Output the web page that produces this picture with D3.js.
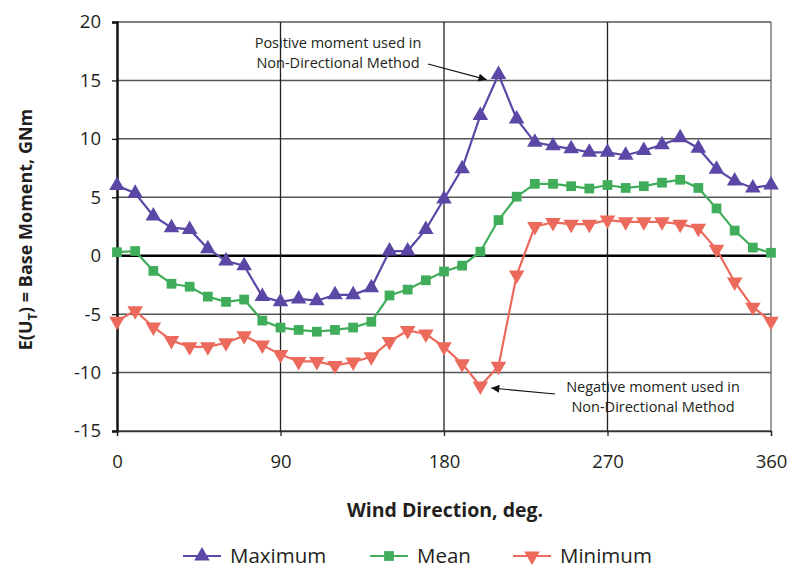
<!DOCTYPE html>
<html>
<head>
<meta charset="utf-8">
<script src="https://cdn.jsdelivr.net/npm/d3@7"></script>
<style>
  body { margin: 0; background: #fff; }
  text { font-family: "Open Sans", "Noto Sans", sans-serif; fill: #231f20; }
</style>
</head>
<body>
<div id="chart"></div>
<script>
// Données.
const directions = d3.range(0, 361, 10);
const maximum = [6.0, 5.35, 3.4, 2.4, 2.25, 0.6, -0.45, -0.85, -3.5, -3.95, -3.7, -3.85, -3.35, -3.35, -2.75,
  0.4, 0.4, 2.25, 4.85, 7.45, 12.0, 15.5, 11.7, 9.7, 9.4, 9.15, 8.85, 8.85, 8.6, 9.0, 9.5, 10.1, 9.2, 7.4, 6.4, 5.8, 6.05];
const mean = [0.3, 0.4, -1.3, -2.4, -2.65, -3.5, -3.95, -3.75, -5.55, -6.15, -6.35, -6.5, -6.35, -6.15, -5.65,
  -3.4, -2.9, -2.1, -1.35, -0.85, 0.35, 3.05, 5.05, 6.15, 6.15, 5.95, 5.75, 6.05, 5.8, 5.95, 6.25, 6.5, 5.8, 4.05, 2.15, 0.7, 0.25];
const minimum = [-5.6, -4.7, -6.1, -7.25, -7.8, -7.8, -7.45, -6.85, -7.65, -8.45, -9.05, -9.05, -9.4, -9.1, -8.65,
  -7.35, -6.4, -6.7, -7.8, -9.25, -11.15, -9.45, -1.65, 2.5, 2.85, 2.7, 2.7, 3.05, 2.9, 2.9, 2.9, 2.7, 2.35, 0.55, -2.25, -4.4, -5.6];
const xTicks = [0, 90, 180, 270, 360];
const yTicks = [-15, -10, -5, 0, 5, 10, 15, 20];

const width = 793, height = 571;
const margin = { left: 117, right: 22, top: 22, bottom: 140 };

const svg = d3.select("#chart").append("svg")
  .attr("width", width).attr("height", height);

const x = d3.scaleLinear().domain([0, 360]).range([margin.left, width - margin.right]);
const y = d3.scaleLinear().domain([-15, 20]).range([height - margin.bottom, margin.top]);

// Grille.
svg.append("g").selectAll("line").data(yTicks).join("line")
  .attr("x1", x(0)).attr("x2", x(360))
  .attr("y1", d => y(d)).attr("y2", d => y(d))
  .attr("stroke", d => d === 0 ? "#000" : "#555")
  .attr("stroke-width", d => d === 0 ? 2.5 : 1.5);
svg.append("g").selectAll("line").data(xTicks.slice(1)).join("line")
  .attr("x1", d => x(d)).attr("x2", d => x(d))
  .attr("y1", y(20)).attr("y2", y(-15))
  .attr("stroke", d => d === 360 ? "#666" : "#222")
  .attr("stroke-width", 1.3);

// Axes (trait d'union simple pour les négatifs, comme l'original).
const yAxis = svg.append("g")
  .attr("transform", `translate(${x(0)},0)`)
  .call(d3.axisLeft(y).tickValues(yTicks).tickFormat(d => String(d)).tickSize(5).tickPadding(11));
yAxis.select(".domain").attr("stroke", "#111").attr("stroke-width", 2.5);
yAxis.selectAll(".tick line").attr("stroke", "#111").attr("stroke-width", 1.3);
yAxis.selectAll("text").style("font-size", "18.5px").attr("fill", "#231f20");

const xAxis = svg.append("g")
  .attr("transform", `translate(0,${y(-15)})`)
  .call(d3.axisBottom(x).tickValues(xTicks).tickFormat(d => String(d)).tickSize(5).tickPadding(19));
xAxis.select(".domain").attr("stroke", "#333").attr("stroke-width", 1.3);
xAxis.selectAll(".tick line").attr("stroke", "#222").attr("stroke-width", 1.3);
xAxis.selectAll("text").style("font-size", "18.5px").attr("fill", "#231f20");

// Titres des axes.
svg.append("text")
  .attr("x", (x(0) + x(360)) / 2 + 1).attr("y", 517)
  .attr("text-anchor", "middle")
  .style("font-size", "19.5px").style("font-weight", "bold")
  .text("Wind Direction, deg.");

const yTitle = svg.append("text")
  .attr("transform", `translate(32,${(y(20) + y(-15)) / 2 + 3}) rotate(-90)`)
  .attr("text-anchor", "middle")
  .style("font-size", "18px").style("font-weight", "bold");
yTitle.append("tspan").text("E(U");
yTitle.append("tspan").attr("dy", 5).style("font-size", "13px").text("T");
yTitle.append("tspan").attr("dy", -5).text(") = Base Moment, GNm");

// Séries.
const series = [
  { name: "Maximum", values: maximum, color: "#5b47a5", symbol: d3.symbolTriangle, size: 105, rot: 0 },
  { name: "Mean", values: mean, color: "#40ad5a", symbol: d3.symbolSquare, size: 95, rot: 0 },
  { name: "Minimum", values: minimum, color: "#ec6a5c", symbol: d3.symbolTriangle, size: 105, rot: 180 },
];

const line = d3.line().x((d, i) => x(directions[i])).y(d => y(d));

series.forEach(s => {
  svg.append("path")
    .attr("d", line(s.values))
    .attr("fill", "none").attr("stroke", s.color).attr("stroke-width", 2.2);
  svg.append("g").selectAll("path").data(s.values).join("path")
    .attr("transform", (d, i) => `translate(${x(directions[i])},${y(d)}) rotate(${s.rot})`)
    .attr("d", d3.symbol(s.symbol, s.size))
    .attr("fill", s.color);
});

// Annotations.
const defs = svg.append("defs");
defs.append("marker").attr("id", "arrow")
  .attr("viewBox", "0 0 10 10").attr("refX", 10).attr("refY", 5)
  .attr("markerWidth", 10).attr("markerHeight", 8).attr("orient", "auto")
  .attr("markerUnits", "userSpaceOnUse")
  .append("path").attr("d", "M0,0 L10,5 L0,10 Z").attr("fill", "#111");

function note(lines, cx, cy, from, to) {
  const t = svg.append("text").attr("text-anchor", "middle").style("font-size", "14.5px");
  lines.forEach((l, i) => t.append("tspan").attr("x", cx).attr("y", cy + i * 20).text(l));
  svg.append("line")
    .attr("x1", from[0]).attr("y1", from[1]).attr("x2", to[0]).attr("y2", to[1])
    .attr("stroke", "#111").attr("stroke-width", 1.2).attr("marker-end", "url(#arrow)");
}
note(["Positive moment used in", "Non-Directional Method"], 338, 48,
  [428, 64], [x(210) - 12, y(15.5) + 5]);
note(["Negative moment used in", "Non-Directional Method"], 653, 392,
  [555, 394], [x(200) + 11, y(-11.15) + 2]);

// Légende.
const legendX = [183, 370, 513];
const legend = svg.append("g").selectAll("g").data(series).join("g")
  .attr("transform", (d, i) => `translate(${legendX[i]},556)`);
legend.append("line").attr("x1", 0).attr("x2", 38)
  .attr("stroke", d => d.color).attr("stroke-width", 2);
legend.append("path")
  .attr("transform", d => `translate(19,0) rotate(${d.rot})`)
  .attr("d", d => d3.symbol(d.symbol, d.size)())
  .attr("fill", d => d.color);
legend.append("text").attr("x", 47).attr("y", 7)
  .style("font-size", "20.5px").text(d => d.name);
</script>
</body>
</html>
